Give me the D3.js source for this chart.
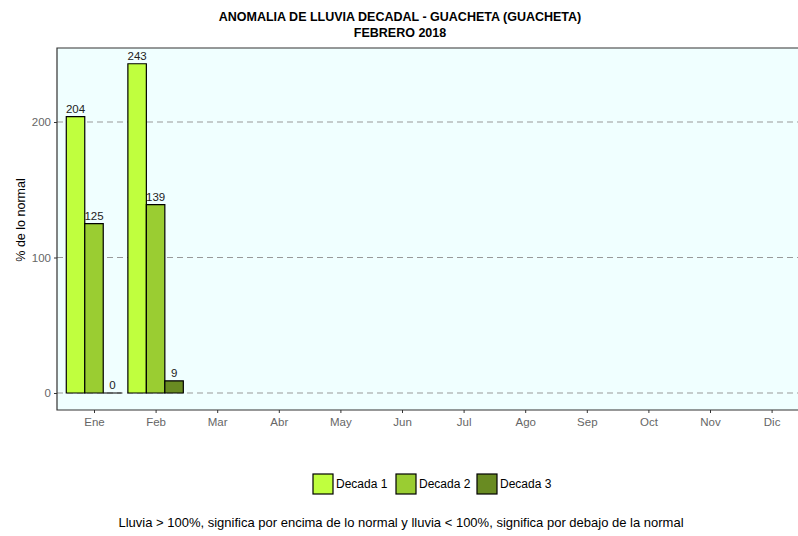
<html>
<head>
<meta charset="utf-8">
<script src="https://d3js.org/d3.v7.min.js"></script>
<style>
  body { margin: 0; background: white; }
  text { font-family: "Liberation Sans", Arial, sans-serif; }
</style>
</head>
<body>
<script>
// data
var meses = ["Ene","Feb","Mar","Abr","May","Jun","Jul","Ago","Sep","Oct","Nov","Dic"];
var decadas = ["Decada 1","Decada 2","Decada 3"];
var decada1 = [204, 243];
var decada2 = [125, 139];
var decada3 = [0, 9];
var yTicks = [0, 100, 200];
var colorset = ["#C0FF3E", "#9ACD32", "#698B22"];

var W = 798, H = 536;
var svg = d3.select("body").append("svg").attr("width", W).attr("height", H);

// panel runs past the right edge like the original (ggplot expansion)
var panel = { left: 57, top: 48, bottom: 410 };
var step = 61.6;
var x0 = 94;  // centre of Ene
var xScale = d3.scalePoint().domain(meses).range([x0, x0 + step * 11]);
var barW = step * 0.9 / 3;
var yScale = d3.scaleLinear().domain([0, 100]).range([393, 257.5]);

svg.append("defs").append("clipPath").attr("id", "clip")
  .append("rect").attr("x", panel.left).attr("y", panel.top)
  .attr("width", W - panel.left).attr("height", panel.bottom - panel.top);

var g = svg.append("g").attr("clip-path", "url(#clip)");
g.append("rect")
  .attr("x", panel.left).attr("y", panel.top)
  .attr("width", W - panel.left + 20).attr("height", panel.bottom - panel.top)
  .attr("fill", "#F0FFFF");

// dashed grid
g.selectAll("line.grid").data(yTicks).enter().append("line")
  .attr("class", "grid")
  .attr("x1", panel.left).attr("x2", W)
  .attr("y1", function(d){ return yScale(d); })
  .attr("y2", function(d){ return yScale(d); })
  .attr("stroke", "#999").attr("stroke-width", 1)
  .attr("stroke-dasharray", "6,4");

// bars (paths so a zero value still shows its outline)
var series = [decada1, decada2, decada3];
series.forEach(function(vals, k){
  var rows = vals.map(function(v, i){ return { mes: meses[i], v: v }; });
  g.selectAll("path.d" + k).data(rows).enter().append("path")
    .attr("class", "d" + k)
    .attr("d", function(d){
      var xl = xScale(d.mes) - step * 0.45 + k * barW;
      return "M" + xl + "," + yScale(0) + "V" + yScale(d.v) + "H" + (xl + barW) + "V" + yScale(0) + "Z";
    })
    .attr("fill", colorset[k])
    .attr("stroke", "black").attr("stroke-width", 1.2);
  g.selectAll("text.l" + k).data(rows).enter().append("text")
    .attr("class", "l" + k)
    .attr("x", function(d){ return xScale(d.mes) - step * 0.45 + (k + 0.5) * barW; })
    .attr("y", function(d){ return yScale(d.v) - 4; })
    .attr("text-anchor", "middle")
    .attr("font-size", "11.5px").attr("fill", "#222")
    .text(function(d){ return d.v; });
});

// panel border
svg.append("path")
  .attr("d", "M" + W + "," + panel.top + "H" + panel.left + "V" + panel.bottom + "H" + W)
  .attr("fill", "none").attr("stroke", "#333").attr("stroke-width", 1.2);

// axes
var xAxis = svg.append("g").attr("transform", "translate(0," + panel.bottom + ")")
  .call(d3.axisBottom(xScale).tickSize(3).tickPadding(5));
xAxis.select(".domain").remove();
xAxis.selectAll("text").attr("font-size", "11.5px").attr("fill", "#666")
  .style("font-family", "'Liberation Sans', Arial, sans-serif");
xAxis.selectAll("line").attr("stroke", "#333");

var yAxis = svg.append("g").attr("transform", "translate(" + panel.left + ",0)")
  .call(d3.axisLeft(yScale).tickValues(yTicks).tickSize(3).tickPadding(3));
yAxis.select(".domain").remove();
yAxis.selectAll("text").attr("font-size", "11.5px").attr("fill", "#666")
  .style("font-family", "'Liberation Sans', Arial, sans-serif");
yAxis.selectAll("line").attr("stroke", "#333");

// titles
svg.append("text").attr("x", 400).attr("y", 21).attr("text-anchor", "middle")
  .attr("font-size", "12.5px").attr("font-weight", "bold")
  .text("ANOMALIA DE LLUVIA DECADAL - GUACHETA (GUACHETA)");
svg.append("text").attr("x", 400).attr("y", 37).attr("text-anchor", "middle")
  .attr("font-size", "12.5px").attr("font-weight", "bold")
  .text("FEBRERO 2018");

svg.append("text")
  .attr("transform", "translate(25,220) rotate(-90)")
  .attr("text-anchor", "middle").attr("font-size", "12.5px")
  .text("% de lo normal");

// legend
var legX = [313, 396, 477];
var leg = svg.append("g");
decadas.forEach(function(name, k){
  leg.append("rect").attr("x", legX[k]).attr("y", 474)
    .attr("width", 20).attr("height", 20)
    .attr("fill", colorset[k]).attr("stroke", "black").attr("stroke-width", 1.2);
  leg.append("text").attr("x", legX[k] + 23).attr("y", 488)
    .attr("font-size", "12px").text(name);
});

svg.append("text").attr("x", 401).attr("y", 527).attr("text-anchor", "middle")
  .attr("font-size", "13px")
  .text("Lluvia > 100%, significa por encima de lo normal y lluvia < 100%, significa por debajo de la normal");
</script>
</body>
</html>
